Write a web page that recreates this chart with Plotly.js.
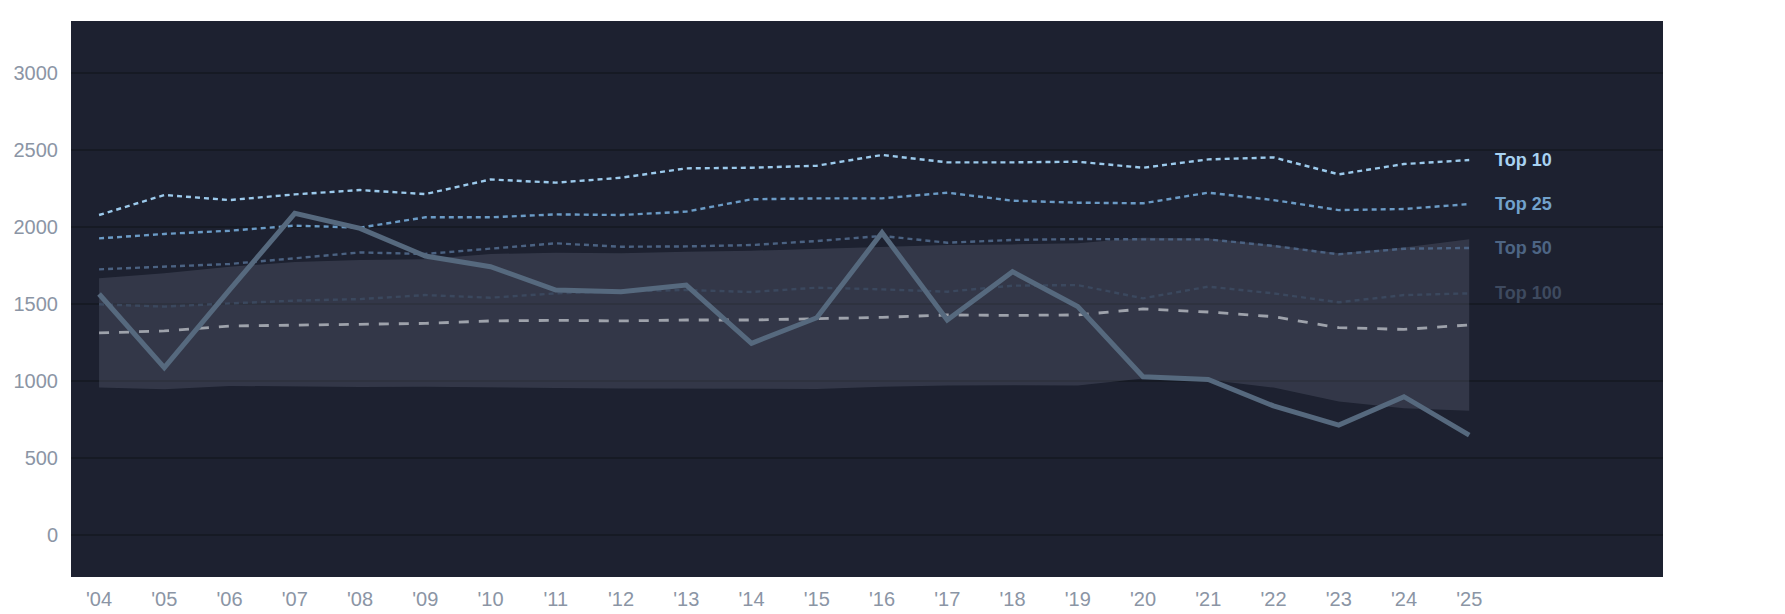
<!DOCTYPE html>
<html>
<head>
<meta charset="utf-8">
<script src="https://cdn.plot.ly/plotly-3.0.1.min.js"></script>
<style>
  html, body { margin: 0; padding: 0; background: #ffffff; }
  #chart { width: 1785px; height: 614px; }
</style>
</head>
<body>
<div id="chart"></div>
<script>
var years = [2004, 2005, 2006, 2007, 2008, 2009, 2010, 2011, 2012, 2013, 2014,
             2015, 2016, 2017, 2018, 2019, 2020, 2021, 2022, 2023, 2024, 2025];
var yearLabels = years.map(function (y) { return "'" + String(y).slice(2); });

var top10  = [2078, 2208, 2175, 2212, 2240, 2214, 2309, 2288, 2320, 2381, 2385,
              2398, 2468, 2420, 2420, 2424, 2385, 2439, 2452, 2342, 2409, 2435];
var top25  = [1926, 1955, 1976, 2009, 1996, 2063, 2063, 2082, 2078, 2100, 2180,
              2186, 2186, 2223, 2171, 2158, 2154, 2223, 2175, 2110, 2117, 2149];
var top50  = [1725, 1742, 1760, 1797, 1835, 1825, 1861, 1894, 1872, 1874, 1883,
              1909, 1942, 1898, 1916, 1922, 1920, 1920, 1877, 1823, 1859, 1864];
var top100 = [1498, 1483, 1504, 1522, 1532, 1558, 1541, 1569, 1582, 1591, 1578,
              1606, 1595, 1580, 1619, 1623, 1537, 1613, 1569, 1511, 1558, 1569];
var median = [1312, 1325, 1357, 1364, 1370, 1374, 1390, 1394, 1390, 1396, 1396,
              1405, 1413, 1429, 1426, 1429, 1468, 1448, 1418, 1346, 1335, 1364];
var bandHigh = [1667, 1699, 1742, 1773, 1786, 1790, 1825, 1833, 1829, 1840, 1846,
                1859, 1872, 1883, 1887, 1894, 1931, 1926, 1883, 1829, 1867, 1921];
var bandLow  = [957, 946, 968, 963, 961, 963, 961, 955, 952, 952, 948,
                948, 963, 970, 972, 970, 1016, 1008, 957, 866, 823, 807];
var actual = [1565, 1087, 1592, 2089, 1991, 1812, 1742, 1591, 1580, 1623, 1245,
              1411, 1963, 1396, 1710, 1483, 1028, 1010, 838, 714, 898, 649];

var tierNames  = ['Top 10', 'Top 25', 'Top 50', 'Top 100'];
var tierSeries = [top10, top25, top50, top100];
var tierColors = ['#9ccaec', '#6b9bc6', '#4b6282', '#3b485e'];
var tierText   = ['#a8d2f2', '#72a2cc', '#4d6584', '#3e4a5f'];

var traces = [
  {
    x: years, y: bandLow, type: 'scatter', mode: 'lines',
    line: { width: 0, color: 'rgba(0,0,0,0)' },
    hoverinfo: 'skip', showlegend: false
  },
  {
    x: years, y: bandHigh, type: 'scatter', mode: 'lines',
    fill: 'tonexty', fillcolor: 'rgba(100,108,126,0.31)',
    line: { width: 0, color: 'rgba(0,0,0,0)' },
    hoverinfo: 'skip', showlegend: false
  }
];

tierSeries.forEach(function (s, i) {
  traces.push({
    x: years, y: s, type: 'scatter', mode: 'lines', name: tierNames[i],
    line: { color: tierColors[i], width: 2.4, dash: '5px,4px' },
    showlegend: false
  });
});

traces.push({
  x: years, y: median, type: 'scatter', mode: 'lines', name: 'Median',
  line: { color: '#9ea2ab', width: 2.8, dash: '10px,10px' },
  showlegend: false
});

traces.push({
  x: years, y: actual, type: 'scatter', mode: 'lines', name: 'Actual',
  line: { color: '#56697e', width: 5 },
  showlegend: false
});

var last = years.length - 1;
var annotations = tierSeries.map(function (s, i) {
  return {
    x: years[last], y: s[last], xref: 'x', yref: 'y',
    text: tierNames[i], showarrow: false,
    xanchor: 'left', yanchor: 'middle', xshift: 24,
    font: { family: 'Liberation Sans, Arial, sans-serif', size: 18, color: tierText[i], weight: 'bold' }
  };
});

var layout = {
  width: 1785,
  height: 614,
  margin: { l: 71, r: 122, t: 21, b: 37 },
  paper_bgcolor: '#ffffff',
  plot_bgcolor: '#1d2130',
  font: { family: 'Liberation Sans, Arial, sans-serif', size: 20, color: '#8b95a5' },
  showlegend: false,
  xaxis: {
    range: [2003.57, 2027.97],
    tickvals: years,
    ticktext: yearLabels,
    showgrid: false,
    zeroline: false,
    showline: false,
    ticklabelstandoff: 8,
    tickfont: { size: 20, color: '#8b95a5' }
  },
  yaxis: {
    range: [-273, 3338],
    tickvals: [0, 500, 1000, 1500, 2000, 2500, 3000],
    gridcolor: '#161a24',
    gridwidth: 2,
    zeroline: false,
    showline: false,
    ticklabelstandoff: 12,
    tickfont: { size: 20, color: '#8b95a5' }
  },
  annotations: annotations
};

Plotly.newPlot('chart', traces, layout, { displayModeBar: false, staticPlot: true });
</script>
</body>
</html>
